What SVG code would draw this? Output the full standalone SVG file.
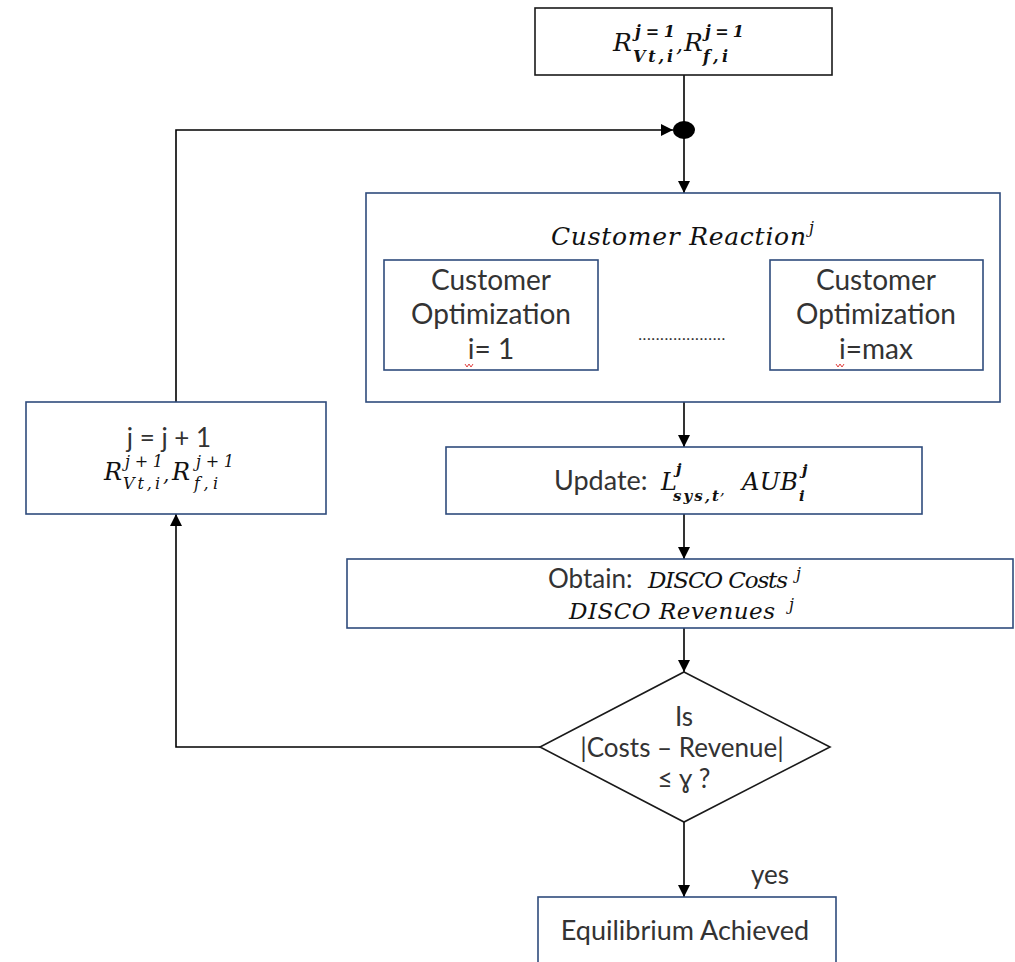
<svg xmlns="http://www.w3.org/2000/svg" width="1015" height="962" viewBox="0 0 1015 962">
<defs>
<style>
.bx{fill:#fff;stroke:#2F4B7C;stroke-width:1.6}
.bk{fill:#fff;stroke:#1a1a1a;stroke-width:1.6}
.ln{fill:none;stroke:#000;stroke-width:1.6}
.t{font-family:Lato,"Open Sans",sans-serif;fill:#333;text-anchor:middle}
.s{font-family:Lato,"Open Sans",sans-serif;fill:#333}
.m{font-family:"DejaVu Serif",serif;font-style:italic;fill:#111}
.mb{font-family:"DejaVu Serif",serif;font-style:italic;font-weight:bold;fill:#111}
.sq{fill:none;stroke:#e04040;stroke-width:1}
</style>
<marker id="ar" markerUnits="userSpaceOnUse" markerWidth="12" markerHeight="12" refX="12" refY="6" viewBox="0 0 12 12" orient="auto">
<path d="M0,0 L12,6 L0,12 z" fill="#000"/>
</marker>
</defs>
<rect width="1015" height="962" fill="#fff"/>

<g id="connectors">
<line class="ln" x1="684" y1="75" x2="684" y2="122"/>
<line class="ln" x1="684" y1="138" x2="684" y2="193" marker-end="url(#ar)"/>
<polyline class="ln" points="176,402 176,130 673,130" marker-end="url(#ar)"/>
<line class="ln" x1="684" y1="402" x2="684" y2="447" marker-end="url(#ar)"/>
<line class="ln" x1="684" y1="514" x2="684" y2="559" marker-end="url(#ar)"/>
<line class="ln" x1="684" y1="628" x2="684" y2="672" marker-end="url(#ar)"/>
<polyline class="ln" points="540,747 176,747 176,514" marker-end="url(#ar)"/>
<line class="ln" x1="684" y1="822" x2="684" y2="897" marker-end="url(#ar)"/>
<ellipse cx="684" cy="130" rx="11" ry="9" fill="#000"/>
<text class="t" x="770" y="884" font-size="26">yes</text>
</g>

<g id="init">
<rect class="bk" x="535" y="8" width="297" height="67"/>
<text class="m" x="613" y="51" font-size="25">R</text>
<text class="mb" x="635" y="37" font-size="16" textLength="40" lengthAdjust="spacing">j=1</text>
<text class="mb" x="633" y="62" font-size="16" textLength="40" lengthAdjust="spacing">Vt,i</text>
<text class="m" x="676" y="52" font-size="22">,</text>
<text class="m" x="684" y="51" font-size="25">R</text>
<text class="mb" x="705" y="37" font-size="16" textLength="39" lengthAdjust="spacing">j=1</text>
<text class="mb" x="703" y="62" font-size="16" textLength="25" lengthAdjust="spacing">f,i</text>
</g>

<g id="customer-reaction">
<rect class="bx" x="366" y="193" width="634" height="209"/>
<text class="m" x="551" y="245" font-size="25" textLength="255" lengthAdjust="spacing">Customer Reaction</text>
<text class="m" x="809" y="233" font-size="16">j</text>
<text x="682" y="340" class="t" font-size="16" letter-spacing="0.6">....................</text>
</g>

<g id="opt1">
<rect class="bx" x="384" y="260" width="214" height="110"/>
<text class="t" x="491" y="290" font-size="28">Customer</text>
<text class="t" x="491" y="324" font-size="28">Optimization</text>
<text class="t" x="491" y="359" font-size="28">i= 1</text>
<path class="sq" d="M465,364 l2,3 l2,-3 l2,3 l2,-3"/>
</g>

<g id="optmax">
<rect class="bx" x="770" y="260" width="213" height="110"/>
<text class="t" x="876" y="290" font-size="28">Customer</text>
<text class="t" x="876" y="324" font-size="28">Optimization</text>
<text class="t" x="876" y="359" font-size="28">i=max</text>
<path class="sq" d="M836,364 l2,3 l2,-3 l2,3 l2,-3"/>
</g>

<g id="update">
<rect class="bx" x="446" y="447" width="476" height="67"/>
<text class="s" x="554" y="490" font-size="27">Update:</text>
<text class="m" x="661" y="490" font-size="24">L</text>
<text class="mb" x="676" y="474" font-size="15">j</text>
<text class="mb" x="673" y="501" font-size="15" textLength="46" lengthAdjust="spacing">sys,t</text>
<text class="m" x="720" y="495" font-size="15">,</text>
<text class="m" x="742" y="490" font-size="24" textLength="56" lengthAdjust="spacing">AUB</text>
<text class="mb" x="799" y="501" font-size="15">i</text>
<text class="mb" x="802" y="475" font-size="15">j</text>
</g>

<g id="obtain">
<rect class="bx" x="347" y="559" width="666" height="69"/>
<text class="s" x="548" y="588" font-size="26">Obtain:</text>
<text class="m" x="648" y="588" font-size="23" textLength="140" lengthAdjust="spacing">DISCO Costs</text>
<text class="m" x="796" y="579" font-size="16">j</text>
<text class="m" x="569" y="619" font-size="23" textLength="206" lengthAdjust="spacing">DISCO Revenues</text>
<text class="m" x="789" y="610" font-size="16">j</text>
</g>

<g id="check">
<polygon class="bk" points="684,672 830,747 684,822 540,747"/>
<text class="t" x="684" y="726" font-size="26">Is</text>
<text class="t" x="682" y="757" font-size="26">|Costs – Revenue|</text>
<text class="t" x="684" y="788" font-size="26">≤ ɣ ?</text>
</g>

<g id="next">
<rect class="bx" x="26" y="402" width="300" height="112"/>
<text class="t" x="169" y="447" font-size="26">j = j + 1</text>
<text class="m" x="104" y="480" font-size="24">R</text>
<text class="m" x="125" y="467" font-size="16" textLength="38" lengthAdjust="spacing">j+1</text>
<text class="m" x="123" y="489" font-size="16" textLength="37" lengthAdjust="spacing">Vt,i</text>
<text class="m" x="163" y="481" font-size="20">,</text>
<text class="m" x="172" y="480" font-size="24">R</text>
<text class="m" x="196" y="467" font-size="16" textLength="38" lengthAdjust="spacing">j+1</text>
<text class="m" x="194" y="489" font-size="16" textLength="24" lengthAdjust="spacing">f,i</text>
</g>

<g id="equilibrium">
<rect class="bx" x="538" y="897" width="298" height="75"/>
<text class="t" x="685" y="940" font-size="27">Equilibrium Achieved</text>
</g>
</svg>
